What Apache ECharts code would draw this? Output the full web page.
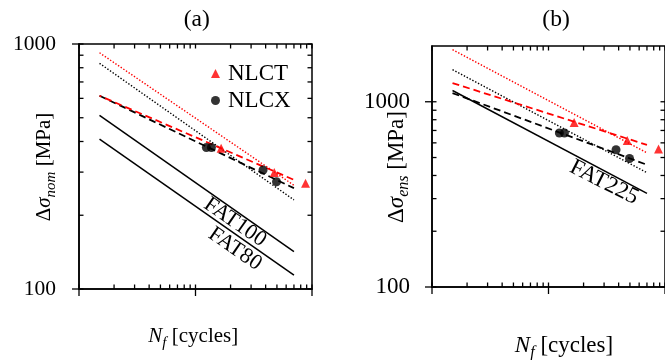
<!DOCTYPE html>
<html>
<head>
<meta charset="utf-8">
<script src="https://cdn.jsdelivr.net/npm/echarts@6/dist/echarts.min.js"></script>
<style>
  html, body { margin: 0; padding: 0; background: #fff; }
  #chart { width: 665px; height: 360px; }
</style>
</head>
<body>
<div id="chart"></div>
<script>
// ---- data ----
const xMajorTicks = [1e4, 1e5, 1e6];
const xMinorTicks = [2e4, 3e4, 4e4, 5e4, 6e4, 7e4, 8e4, 9e4, 2e5, 3e5, 4e5, 5e5, 6e5, 7e5, 8e5, 9e5];
const yMajorTicks = [100, 1000];
const yMinorTicks = [200, 300, 400, 500, 600, 700, 800, 900];
const yTickLabels = [100, 1000];

// test results: cycles to failure and stress ranges
const nlcxCycles = [1.24e5, 1.37e5, 3.8e5, 4.96e5];
const nlctCycles = [1.66e5, 4.74e5, 8.8e5];
const nlcxNom = [378, 378, 306, 274];
const nlctNom = [375, 299, 270];
const nlcxEns = [678, 678, 551, 494];
const nlctEns = [773, 618, 556];

// S-N curves, given at their two end points
const curveCycles = [1.5e4, 7e5];
const fat100 = [511, 142];
const fat80 = [409, 114];
const fat225 = [1150, 320];
const nomMeanX = [615, 258];
const nomMeanT = [615, 279];
const nomDotX = [834, 231];
const nomDotT = [921, 265];
const ensMeanX = [1114, 457];
const ensMeanT = [1262, 585];
const ensDotX = [1490, 414];
const ensDotT = [1910, 530];

// ---- helpers ----
const FONT = "'Liberation Serif', 'Times New Roman', serif";
const RED = '#ff0000';
const pairs = (xs, ys) => xs.map((x, i) => [x, ys[i]]);

function curve(name, gi, ys, color, kind) {
  const ls = { color: color, width: 1.5, type: 'solid' };
  if (kind === 'dash') { ls.type = [7, 4]; ls.width = 1.8; }
  if (kind === 'dashShift') { ls.type = [7, 4]; ls.width = 1.8; ls.dashOffset = 5; }
  if (kind === 'dot') { ls.type = [1.4, 1.8]; ls.width = 1.4; }
  return {
    name: name, type: 'line', xAxisIndex: gi, yAxisIndex: gi,
    data: pairs(curveCycles, ys), symbol: 'none', silent: true,
    lineStyle: ls, z: 2, animation: false
  };
}

function points(name, gi, xs, ys, shape) {
  return {
    name: name, type: 'scatter', xAxisIndex: gi, yAxisIndex: gi,
    data: pairs(xs, ys), symbol: shape,
    symbolSize: 9,
    itemStyle: { color: shape === 'triangle' ? RED : '#000' },
    z: 4, animation: false
  };
}

// tick marks on all four sides of a panel
function ticks(gi, xMin, yMin) {
  const data = [];
  xMajorTicks.forEach(v => data.push([v, yMin, 0]));
  xMinorTicks.forEach(v => data.push([v, yMin, 1]));
  yMajorTicks.forEach(v => data.push([xMin, v, 2]));
  yMinorTicks.forEach(v => data.push([xMin, v, 3]));
  return {
    type: 'custom', xAxisIndex: gi, yAxisIndex: gi, data: data, clip: false,
    silent: true, z: 6, animation: false,
    renderItem: function (params, api) {
      const cs = params.coordSys;
      const kind = api.value(2);
      const p = api.coord([api.value(0), api.value(1)]);
      const IN = 4.5, OUT = 7;
      const st = { stroke: '#000', lineWidth: 1.3 };
      const seg = (x1, y1, x2, y2) => ({ type: 'line', shape: { x1, y1, x2, y2 }, style: st });
      const ch = [];
      if (kind < 2) {
        const x = p[0], b = cs.y + cs.height, t = cs.y;
        ch.push(seg(x, b - IN, x, b + (kind === 0 ? OUT : 0)));
        ch.push(seg(x, t, x, t + IN));
      } else {
        const y = p[1], l = cs.x, r = cs.x + cs.width;
        ch.push(seg(l - (kind === 2 ? OUT : 0), y, l + IN, y));
        ch.push(seg(r, y, r - IN, y));
      }
      return { type: 'group', children: ch };
    }
  };
}

function xAxis(gi) {
  return {
    type: 'log', logBase: 10, gridIndex: gi, min: 1e4, max: 1e6,
    axisLine: { show: true, lineStyle: { color: '#000', width: 1.5 } },
    axisTick: { show: false }, axisLabel: { show: false }, splitLine: { show: false },
    minorTick: { show: false }
  };
}
function yAxis(gi, max, size, margin) {
  return {
    type: 'log', logBase: 10, gridIndex: gi, min: 100, max: max,
    axisLine: { show: true, lineStyle: { color: '#000', width: 1.5 } },
    axisTick: { show: false }, splitLine: { show: false },
    axisLabel: {
      show: true, margin: margin, color: '#000', fontFamily: FONT, fontSize: size,
      showMinLabel: true, showMaxLabel: true,
      formatter: v => yTickLabels.includes(Math.round(v)) ? String(Math.round(v)) : ''
    }
  };
}

function richFor(size) {
  return {
    i: { fontFamily: FONT, fontSize: size, fontStyle: 'italic', lineHeight: 30, verticalAlign: 'middle', fill: '#000' },
    r: { fontFamily: FONT, fontSize: size, lineHeight: 30, verticalAlign: 'middle', fill: '#000' },
    sub: { fontFamily: FONT, fontSize: Math.round(size * 0.7), fontStyle: 'italic', lineHeight: 14, verticalAlign: 'bottom', fill: '#000' }
  };
}
function label(text, x, y, size, rot, rich) {
  return {
    type: 'text', x: x, y: y, rotation: rot || 0, silent: true,
    style: {
      text: text, fontFamily: FONT, fontSize: size, fill: '#000',
      align: 'center', verticalAlign: 'middle', rich: rich
    }
  };
}

const chart = echarts.init(document.getElementById('chart'));
chart.setOption({
  backgroundColor: '#fff',
  animation: false,
  grid: [
    { left: 79, top: 44, width: 233, height: 245, show: true, borderColor: '#000', borderWidth: 1.5, backgroundColor: 'transparent' },
    { left: 432, top: 46, width: 240, height: 241, show: true, borderColor: '#000', borderWidth: 1.5, backgroundColor: 'transparent' }
  ],
  xAxis: [xAxis(0), xAxis(1)],
  yAxis: [yAxis(0, 1000, 21.5, 23), yAxis(1, 2000, 23, 22)],
  legend: {
    orient: 'vertical', left: 206, top: 57, itemWidth: 9, itemHeight: 9, itemGap: 4,
    textStyle: { fontFamily: FONT, fontSize: 23, color: '#000', padding: [0, 0, 0, 3] },
    data: [{ name: 'NLCT', icon: 'triangle' }, { name: 'NLCX', icon: 'circle' }],
    selectedMode: false
  },
  series: [
    curve('FAT100', 0, fat100, '#000', 'solid'),
    curve('FAT80', 0, fat80, '#000', 'solid'),
    curve('nomDotX', 0, nomDotX, '#000', 'dot'),
    curve('nomDotT', 0, nomDotT, RED, 'dot'),
    curve('nomMeanX', 0, nomMeanX, '#000', 'dash'),
    curve('nomMeanT', 0, nomMeanT, RED, 'dashShift'),
    points('NLCX', 0, nlcxCycles, nlcxNom, 'circle'),
    points('NLCT', 0, nlctCycles, nlctNom, 'triangle'),
    ticks(0, 1e4, 100),

    curve('FAT225', 1, fat225, '#000', 'solid'),
    curve('ensDotX', 1, ensDotX, '#000', 'dot'),
    curve('ensDotT', 1, ensDotT, RED, 'dot'),
    curve('ensMeanX', 1, ensMeanX, '#000', 'dash'),
    curve('ensMeanT', 1, ensMeanT, RED, 'dash'),
    points('NLCX', 1, nlcxCycles, nlcxEns, 'circle'),
    points('NLCT', 1, nlctCycles, nlctEns, 'triangle'),
    ticks(1, 1e4, 100)
  ],
  graphic: [
    label('(a)', 196.7, 20, 23.5),
    label('(b)', 556, 20, 23.5),
    label('{i|N}{sub|f}{r| [cycles]}', 193.3, 336, 21, 0, richFor(21)),
    label('{i|N}{sub|f}{r| [cycles]}', 564, 346, 23, 0, richFor(23)),
    label('{r|Δ}{i|σ}{sub|nom}{r| [MPa]}', 44, 167, 21, Math.PI / 2, richFor(21)),
    label('{r|Δ}{i|σ}{sub|ens}{r| [MPa]}', 396.5, 167, 23, Math.PI / 2, richFor(23)),
    label('FAT100', 235, 222.3, 22, -0.605),
    label('FAT80', 235, 249, 22, -0.605),
    label('FAT225', 604, 182.5, 23, -0.467)
  ]
});
</script>
</body>
</html>
